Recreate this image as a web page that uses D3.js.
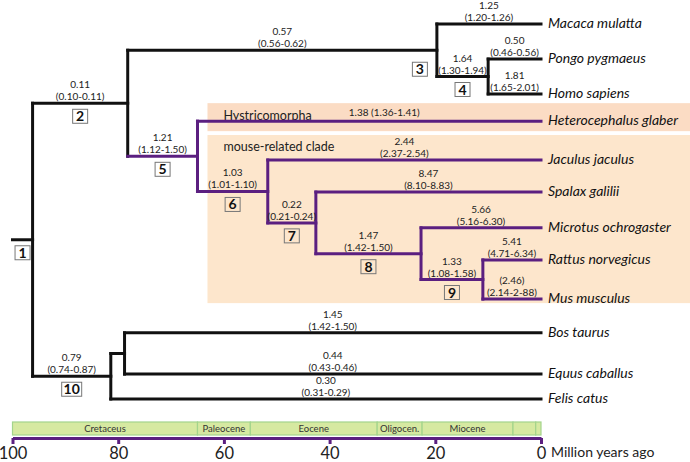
<!DOCTYPE html>
<html><head><meta charset="utf-8">
<script src="https://cdn.jsdelivr.net/npm/d3@7"></script>
<style>body{margin:0;background:#fff} svg{display:block;font-family:Lato,"Open Sans",sans-serif}</style>
</head><body><svg id="c" width="690" height="462"></svg>
<script>
// ---------- data ----------
const tipNames = ["Macaca mulatta","Pongo pygmaeus","Homo sapiens","Heterocephalus glaber","Jaculus jaculus","Spalax galilii","Microtus ochrogaster","Rattus norvegicus","Mus musculus","Bos taurus","Equus caballus","Felis catus"];
const tipRows = [0, 1.03, 2.05, 2.85, 3.99, 4.93, 5.98, 6.92, 8.07, 9.06, 10.27, 11];
const nodeIds = ["n1","n2","n3","n4","n5","n6","n7","n8","n9","n10","n11"];
const nodeAges = [96.2, 78.2, 19.7, 10.0, 65.0, 51.7, 42.6, 22.7, 11.0, 81.4, 78.8];
const nodeChildren = [["n2","n10"],["n3","n5"],["Macaca mulatta","n4"],["Pongo pygmaeus","Homo sapiens"],["Heterocephalus glaber","n6"],["Jaculus jaculus","n7"],["Spalax galilii","n8"],["Microtus ochrogaster","n9"],["Rattus norvegicus","Mus musculus"],["n11","Felis catus"],["Bos taurus","Equus caballus"]];
const nodeBoxes = ["1","2","3","4","5","6","7","8","9","10",""];
const branchChild = ["n2","n3","Macaca mulatta","n4","Pongo pygmaeus","Homo sapiens","n5","Heterocephalus glaber","n6","Jaculus jaculus","n7","Spalax galilii","n8","Microtus ochrogaster","n9","Rattus norvegicus","Mus musculus","n10","n11","Bos taurus","Equus caballus","Felis catus"];
const branchValue = ["0.11","0.57","1.25","1.64","0.50","1.81","1.21","1.38 (1.36-1.41)","1.03","2.44","0.22","8.47","1.47","5.66","1.33","5.41","(2.46)","0.79","","1.45","0.44","0.30"];
const branchCI = ["(0.10-0.11)","(0.56-0.62)","(1.20-1.26)","(1.30-1.94)","(0.46-0.56)","(1.65-2.01)","(1.12-1.50)","","(1.01-1.10)","(2.37-2.54)","(0.21-0.24)","(8.10-8.83)","(1.42-1.50)","(5.16-6.30)","(1.08-1.58)","(4.71-6.34)","(2.14-2-88)","(0.74-0.87)","","(1.42-1.50)","(0.43-0.46)","(0.31-0.29)"];
const rootAge = 100;
const rodentNode = "n5";
const cladeNames = ["Hystricomorpha","mouse-related clade"];
const cladeFirstTip = ["Heterocephalus glaber","Jaculus jaculus"];
const cladeLastTip = ["Heterocephalus glaber","Mus musculus"];
const periodNames = ["Cretaceus","Paleocene","Eocene","Oligocen.","Miocene","",""];
const periodStarts = [100, 65, 55, 31, 22.5, 5.3, 1];
const periodEnds = [65, 55, 31, 22.5, 5.3, 1, 0];
const axisTicks = [100, 80, 60, 40, 20, 0];
const axisTitle = "Million years ago";

// ---------- drawing ----------
const BLACK = "#111", PURPLE = "#5b1f80";
const svg = d3.select("#c");
const x = d3.scaleLinear().domain([100, 0]).range([12.5, 541]);
const y = d3.scaleLinear().domain([0, 11]).range([24, 399]);

const pos = {};
tipNames.forEach((t, i) => pos[t] = {x: x(0), y: y(tipRows[i])});
const idx = {}; nodeIds.forEach((n, i) => idx[n] = i);
function place(id) {
  if (pos[id]) return pos[id];
  const i = idx[id];
  const ch = nodeChildren[i].map(place);
  pos[id] = {x: x(nodeAges[i]), y: d3.mean(ch, d => d.y), ymin: d3.min(ch, d => d.y), ymax: d3.max(ch, d => d.y)};
  return pos[id];
}
place("n1");
const parentOf = {};
nodeIds.forEach((n, i) => nodeChildren[i].forEach(c => parentOf[c] = n));
const inRodent = new Set();
(function mark(id){ inRodent.add(id); if (idx[id] !== undefined) nodeChildren[idx[id]].forEach(mark); })(rodentNode);

// clade backgrounds
const bgX = pos[rodentNode].x + 10;
const bgColors = ["#fbdcc4", "#fde6cc"];
const bgPad = [[18, 10], [25, 4]];
cladeNames.forEach((name, k) => {
  const t = pos[cladeFirstTip[k]].y - bgPad[k][0], b = pos[cladeLastTip[k]].y + bgPad[k][1];
  svg.append("rect").attr("x", bgX).attr("y", t).attr("width", 690 - bgX).attr("height", b - t).attr("fill", bgColors[k]);
  svg.append("text").attr("x", bgX + 16).attr("y", t + 12).attr("dy", "0.35em")
    .attr("font-size", 12.5).attr("fill", "#222").text(name);
});

// branches
const g = svg.append("g").attr("fill", "none").attr("stroke-width", 3).attr("stroke-linecap", "square");
nodeIds.forEach((n, i) => {
  const p = pos[n];
  g.append("line").attr("x1", p.x).attr("x2", p.x).attr("y1", p.ymin).attr("y2", p.ymax)
    .attr("stroke", inRodent.has(n) ? PURPLE : BLACK);
  nodeChildren[i].forEach(c => {
    g.append("line").attr("x1", p.x).attr("x2", pos[c].x).attr("y1", pos[c].y).attr("y2", pos[c].y)
      .attr("stroke", inRodent.has(c) ? PURPLE : BLACK);
  });
});
g.append("line").attr("x1", x(rootAge)).attr("x2", pos.n1.x).attr("y1", pos.n1.y).attr("y2", pos.n1.y).attr("stroke", BLACK);

// branch labels
const lab = svg.append("g").attr("font-size", 10).attr("fill", "#222").attr("text-anchor", "middle");
branchChild.forEach((c, i) => {
  if (!branchValue[i]) return;
  const p = pos[parentOf[c]], q = pos[c];
  let cx = (p.x + q.x) / 2;
  if (!branchCI[i]) {
    lab.append("text").attr("x", cx + 15).attr("y", q.y - 5).text(branchValue[i]);
  } else {
    lab.append("text").attr("x", cx).attr("y", q.y - 15).text(branchValue[i]);
    lab.append("text").attr("x", cx).attr("y", q.y - 3).text(branchCI[i]);
  }
});

// node boxes
nodeIds.forEach((n, i) => {
  const t = nodeBoxes[i]; if (!t) return;
  const q = pos[n];
  const px = n === "n1" ? x(rootAge) : pos[parentOf[n]].x;
  let cx = (px + q.x) / 2, top = q.y + 6;
  if (n === "n3") { cx = q.x - 17; top = q.y + 12; }
  const w = t.length > 1 ? 20 : 15;
  svg.append("rect").attr("x", cx - w / 2).attr("y", top).attr("width", w).attr("height", 14)
    .attr("fill", "none").attr("stroke", "#777").attr("stroke-width", 1);
  svg.append("text").attr("x", cx).attr("y", top + 7).attr("dy", "0.36em").attr("text-anchor", "middle")
    .attr("font-size", 14).attr("font-weight", "bold").attr("fill", "#111").text(t);
});

// tip labels
svg.append("g").selectAll("text").data(tipNames).join("text")
  .attr("x", d => pos[d].x + 7).attr("y", d => pos[d].y).attr("dy", "0.3em")
  .attr("font-size", 14).attr("font-style", "italic").attr("fill", "#111").text(d => d);

// geological time bar
const geo = svg.append("g");
periodNames.forEach((nm, i) => {
  const x0 = x(periodStarts[i]), x1 = x(periodEnds[i]);
  geo.append("rect").attr("x", x0).attr("y", 422).attr("width", x1 - x0).attr("height", 13)
    .attr("fill", "#d6e9a1").attr("stroke", "#a3d48c").attr("stroke-width", 1.2);
  if (nm) geo.append("text").attr("x", (x0 + x1) / 2).attr("y", 428.5).attr("dy", "0.35em")
    .attr("text-anchor", "middle").attr("font-size", 9.5).attr("fill", "#333").text(nm);
});

// axis
const axis = svg.append("g").attr("transform", "translate(0,438)");
axis.call(d3.axisBottom(x).tickValues(axisTicks).tickSize(6).tickSizeOuter(0).tickPadding(3).tickFormat(d3.format("d")));
axis.select(".domain").attr("stroke", PURPLE).attr("stroke-width", 3);
axis.selectAll(".tick line").attr("stroke", PURPLE).attr("stroke-width", 3);
axis.selectAll(".tick text").attr("font-size", 16.5).attr("font-family", "Lato").attr("fill", "#222");
svg.append("text").attr("x", 551).attr("y", 457).attr("font-size", 14).attr("fill", "#222").text(axisTitle);
</script></body></html>
